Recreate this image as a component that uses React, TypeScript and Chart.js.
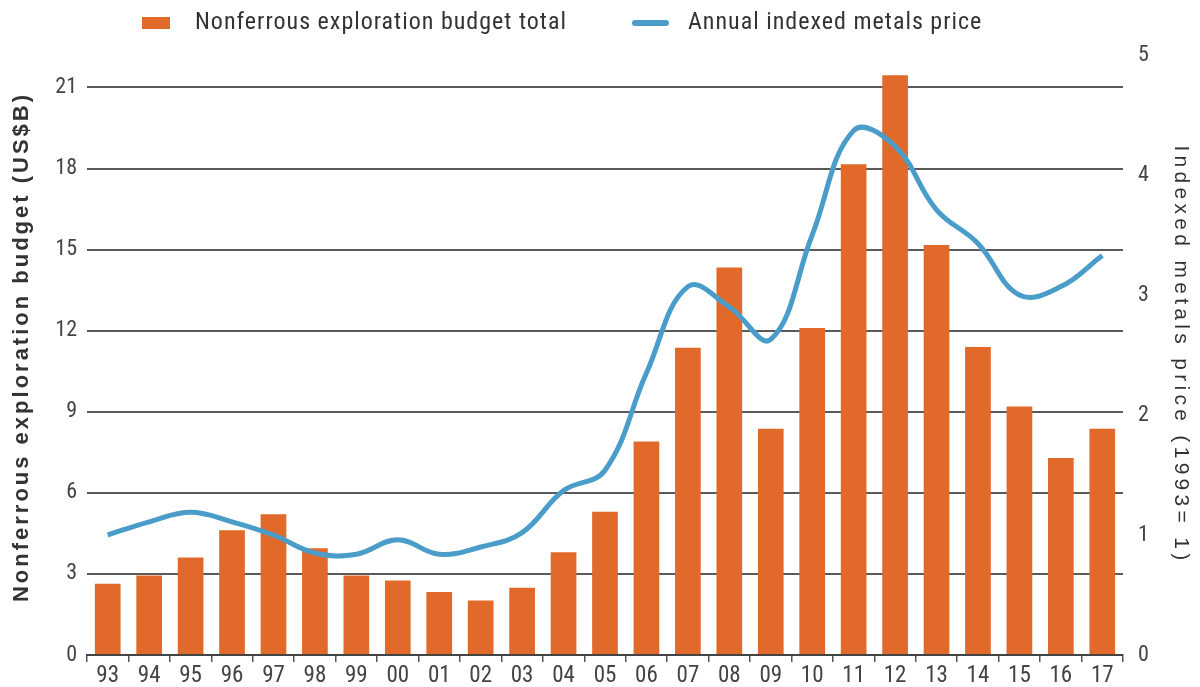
import React, { useEffect, useRef } from "react";
import { Chart, registerables } from "chart.js";

Chart.register(...registerables);

const years = ["93","94","95","96","97","98","99","00","01","02","03","04","05","06","07","08","09","10","11","12","13","14","15","16","17"];
const budgetTotal = [2.64, 2.94, 3.61, 4.62, 5.21, 3.95, 2.94, 2.76, 2.33, 2.02, 2.49, 3.8, 5.3, 7.9, 11.37, 14.34, 8.37, 12.1, 18.16, 21.45, 15.17, 11.4, 9.19, 7.29, 8.37];
const metalsPrice = [1.0, 1.11, 1.19, 1.11, 1.0, 0.85, 0.84, 0.96, 0.84, 0.9, 1.02, 1.37, 1.54, 2.35, 3.07, 2.9, 2.63, 3.5, 4.37, 4.24, 3.71, 3.43, 3.0, 3.07, 3.33];
const leftTicks = [0, 3, 6, 9, 12, 15, 18, 21];
const leftTitle = "Nonferrous exploration budget (US$B)";
const rightTitle = "Indexed metals price (1993= 1)";

const FONT = "'Roboto Condensed', 'Liberation Sans Narrow', 'DejaVu Sans Condensed', Roboto, sans-serif";
const TITLE_FONT = "'Liberation Sans', Arial, sans-serif";
const ORANGE = "#E1692A";
const BLUE = "#4A9DC9";

const legendPlugin = {
  id: "customLegend",
  afterDraw(chart: any) {
    const ctx = chart.ctx;
    const ds = chart.data.datasets;
    ctx.save();
    ctx.font = `24px ${FONT}`;
    (ctx as any).letterSpacing = "1px";
    ctx.textBaseline = "middle";
    ctx.textAlign = "left";
    ctx.fillStyle = ds[0].backgroundColor;
    ctx.fillRect(134, 9, 28, 12);
    ctx.fillStyle = "#333";
    ctx.fillText(ds[0].label, 187, 15);
    ctx.strokeStyle = ds[1].borderColor;
    ctx.lineWidth = 6;
    ctx.lineCap = "round";
    ctx.beginPath();
    ctx.moveTo(627, 15);
    ctx.lineTo(658, 15);
    ctx.stroke();
    ctx.fillText(ds[1].label, 680, 15);
    ctx.restore();
  },
};

const axisTitlePlugin = {
  id: "axisTitles",
  afterDraw(chart: any) {
    const ctx = chart.ctx;
    const { top, bottom } = chart.chartArea;
    const midY = (top + bottom) / 2;
    ctx.save();
    ctx.textAlign = "center";
    ctx.textBaseline = "middle";
    ctx.save();
    ctx.translate(14, midY - 8);
    ctx.rotate(-Math.PI / 2);
    ctx.font = `600 22px ${TITLE_FONT}`;
    (ctx as any).letterSpacing = "3px";
    ctx.fillStyle = "#333";
    ctx.fillText(leftTitle, 0, 0);
    ctx.restore();
    ctx.save();
    ctx.translate(chart.width - 11, midY);
    ctx.rotate(Math.PI / 2);
    ctx.font = `21px ${TITLE_FONT}`;
    (ctx as any).letterSpacing = "4.3px";
    ctx.fillStyle = "#333";
    ctx.fillText(rightTitle, 0, 0);
    ctx.restore();
    ctx.restore();
  },
};

export default function App() {
  const ref = useRef<HTMLCanvasElement>(null);
  useEffect(() => {
    if (!ref.current) return;
    const chart = new Chart(ref.current, {
      type: "bar",
      data: {
        labels: years,
        datasets: [
          {
            type: "bar",
            label: "Nonferrous exploration budget total",
            data: budgetTotal,
            backgroundColor: ORANGE,
            yAxisID: "y",
            barPercentage: 0.62,
            categoryPercentage: 1,
            order: 2,
          },
          {
            type: "line",
            label: "Annual indexed metals price",
            data: metalsPrice,
            borderColor: BLUE,
            backgroundColor: BLUE,
            borderWidth: 5,
            pointRadius: 0,
            tension: 0.4,
            yAxisID: "y1",
            order: 1,
          } as any,
        ],
      },
      options: {
        animation: false,
        responsive: true,
        maintainAspectRatio: false,
        layout: { padding: { top: 47, left: 0, right: 0, bottom: 0 } },
        plugins: { legend: { display: false }, tooltip: { enabled: false } },
        scales: {
          x: {
            offset: true,
            grid: { display: true, drawOnChartArea: false, drawTicks: true, tickLength: 7, color: "#555", lineWidth: 1.5, offset: true },
            border: { display: true, color: "#444", width: 2 },
            ticks: { color: "#444", font: { family: FONT, size: 23 }, padding: 0, maxRotation: 0, autoSkip: false },
            afterFit: (s: any) => { s.height = 32; },
          },
          y: {
            position: "left",
            min: 0,
            max: 22.2,
            afterBuildTicks: (s: any) => { s.ticks = leftTicks.map((v) => ({ value: v })); },
            grid: { color: "#5a5a5a", lineWidth: 2, drawTicks: false },
            border: { display: false },
            ticks: { color: "#444", font: { family: FONT, size: 22 }, padding: 10 },
            afterFit: (s: any) => { s.width = 79; },
          },
          y1: {
            position: "right",
            min: 0,
            max: 5,
            ticks: { stepSize: 1, color: "#444", font: { family: FONT, size: 22 }, padding: 15 },
            grid: { display: false, drawTicks: false },
            border: { display: false },
            afterFit: (s: any) => { s.width = 69; },
          },
        },
      },
      plugins: [legendPlugin, axisTitlePlugin],
    });
    return () => chart.destroy();
  }, []);
  return (
    <div style={{ position: "relative", width: "100%", height: "679px" }}>
      <canvas ref={ref} />
    </div>
  );
}
